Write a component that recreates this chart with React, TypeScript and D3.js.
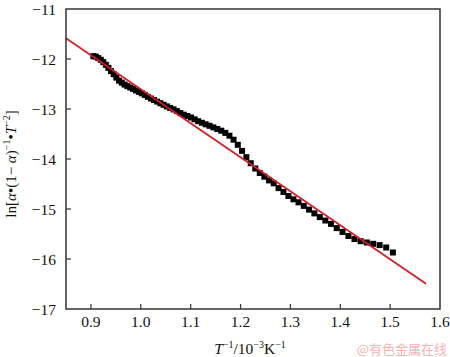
import React from "react";
import * as d3 from "d3";

const xVals = [
  0.9049, 0.9098, 0.9147, 0.9198, 0.9248, 0.9299, 0.9351, 0.9403, 0.9456, 0.951,
  0.9564, 0.9619, 0.9674, 0.973, 0.9787, 0.9844, 0.9902, 0.9961, 1.002, 1.008,
  1.0141, 1.0203, 1.0265, 1.0328, 1.0392, 1.0457, 1.0522, 1.0589, 1.0656, 1.0724,
  1.0793, 1.0863, 1.0933, 1.1005, 1.1078, 1.1151, 1.1226, 1.1301, 1.1378, 1.1456,
  1.1534, 1.1614, 1.1695, 1.1777, 1.186, 1.1945, 1.203, 1.2117, 1.2205, 1.2295,
  1.2386, 1.2478, 1.2571, 1.2666, 1.2763, 1.2861, 1.296, 1.3061, 1.3163, 1.3268,
  1.3373, 1.3481, 1.359, 1.3701, 1.3814, 1.3929, 1.4046, 1.4164, 1.4285, 1.4408,
  1.4533, 1.466, 1.4789, 1.4921, 1.5055,
];
const yVals = [
  -11.944, -11.952, -11.982, -12.016, -12.062, -12.116, -12.178, -12.242, -12.304, -12.372,
  -12.434, -12.472, -12.512, -12.542, -12.57, -12.598, -12.628, -12.658, -12.686, -12.718,
  -12.756, -12.79, -12.82, -12.852, -12.884, -12.916, -12.948, -12.978, -13.008, -13.042,
  -13.082, -13.114, -13.14, -13.17, -13.206, -13.244, -13.276, -13.306, -13.336, -13.368,
  -13.4, -13.434, -13.478, -13.534, -13.614, -13.716, -13.838, -13.964, -14.084, -14.19,
  -14.28, -14.354, -14.428, -14.486, -14.582, -14.66, -14.74, -14.806, -14.866, -14.938,
  -15.012, -15.088, -15.162, -15.23, -15.298, -15.382, -15.458, -15.54, -15.6, -15.644,
  -15.67, -15.696, -15.722, -15.77, -15.87,
];
const fitX = [0.85, 1.572];
const fitY = [-11.586, -16.496];
const xTicks = [0.9, 1.0, 1.1, 1.2, 1.3, 1.4, 1.5, 1.6];
const yTicks = [-11, -12, -13, -14, -15, -16, -17];

const W = 450;
const H = 357;
const L = 66;
const R = 440;
const T = 9;
const B = 309;

export default function App() {
  const x = d3.scaleLinear().domain([0.85, 1.6]).range([L, R]);
  const y = d3.scaleLinear().domain([-17, -11]).range([B, T]);
  const line = d3
    .line<number>()
    .x((_, i) => x(fitX[i]))
    .y((d) => y(d));
  const serif = "'Liberation Serif', 'Times New Roman', serif";
  const s = 6;
  const minus = (v: number) => (v < 0 ? "\u2212" + Math.abs(v) : String(v));
  return (
    <svg width={W} height={H} style={{ position: "absolute", left: 0, top: 0, background: "#fff" }}>
      <rect x={0} y={0} width={W} height={H} fill="#fff" />
      {xVals.map((xv, i) => (
        <rect key={i} x={x(xv) - s / 2} y={y(yVals[i]) - s / 2} width={s} height={s} fill="#000" />
      ))}
      <path d={line(fitY) || ""} stroke="#d21f26" strokeWidth={1.8} fill="none" />
      <rect x={L} y={T} width={R - L} height={B - T} fill="none" stroke="#333" strokeWidth={1.5} />
      {xTicks.map((t) => (
        <g key={"x" + t}>
          {t < 1.59 && <line x1={x(t)} x2={x(t)} y1={B} y2={B - 5} stroke="#333" strokeWidth={1.2} />}
          <text x={x(t)} y={327} textAnchor="middle" fontFamily={serif} fontSize={15.5} fill="#111">
            {t.toFixed(1)}
          </text>
        </g>
      ))}
      {yTicks.map((t) => (
        <g key={"y" + t}>
          {t > -17 && t < -11 && <line x1={L} x2={L + 5} y1={y(t)} y2={y(t)} stroke="#333" strokeWidth={1.2} />}
          <text x={56} y={y(t) + 5.5} textAnchor="end" fontFamily={serif} fontSize={15.5} fill="#111">
            {minus(t)}
          </text>
        </g>
      ))}
      <text x={250} y={354} textAnchor="middle" fontFamily={serif} fontSize={15.5} fill="#111">
        <tspan fontStyle="italic">T</tspan>
        <tspan fontSize={10} dy={-6}>{"\u22121"}</tspan>
        <tspan dy={6}>/10</tspan>
        <tspan fontSize={10} dy={-6}>{"\u22123"}</tspan>
        <tspan dy={6}>K</tspan>
        <tspan fontSize={10} dy={-6}>{"\u22121"}</tspan>
      </text>
      <text
        transform={`translate(16,164) rotate(-90)`}
        textAnchor="middle"
        fontFamily={serif}
        fontSize={15}
        fill="#111"
      >
        <tspan>ln[</tspan>
        <tspan fontStyle="italic">{"\u03b1"}</tspan>
        <tspan>{"\u2022(1\u2212 "}</tspan>
        <tspan fontStyle="italic">{"\u03b1"}</tspan>
        <tspan>)</tspan>
        <tspan fontSize={10} dy={-6}>{"\u22121"}</tspan>
        <tspan dy={6}>{"\u2022"}</tspan>
        <tspan fontStyle="italic">T</tspan>
        <tspan fontSize={10} dy={-6}>{"\u22122"}</tspan>
        <tspan dy={6}>]</tspan>
      </text>
      <text x={447} y={354} textAnchor="end" fontFamily="'Noto Sans CJK SC', sans-serif" fontSize={13} fill="#f2b3b3">
        @有色金属在线
      </text>
    </svg>
  );
}
